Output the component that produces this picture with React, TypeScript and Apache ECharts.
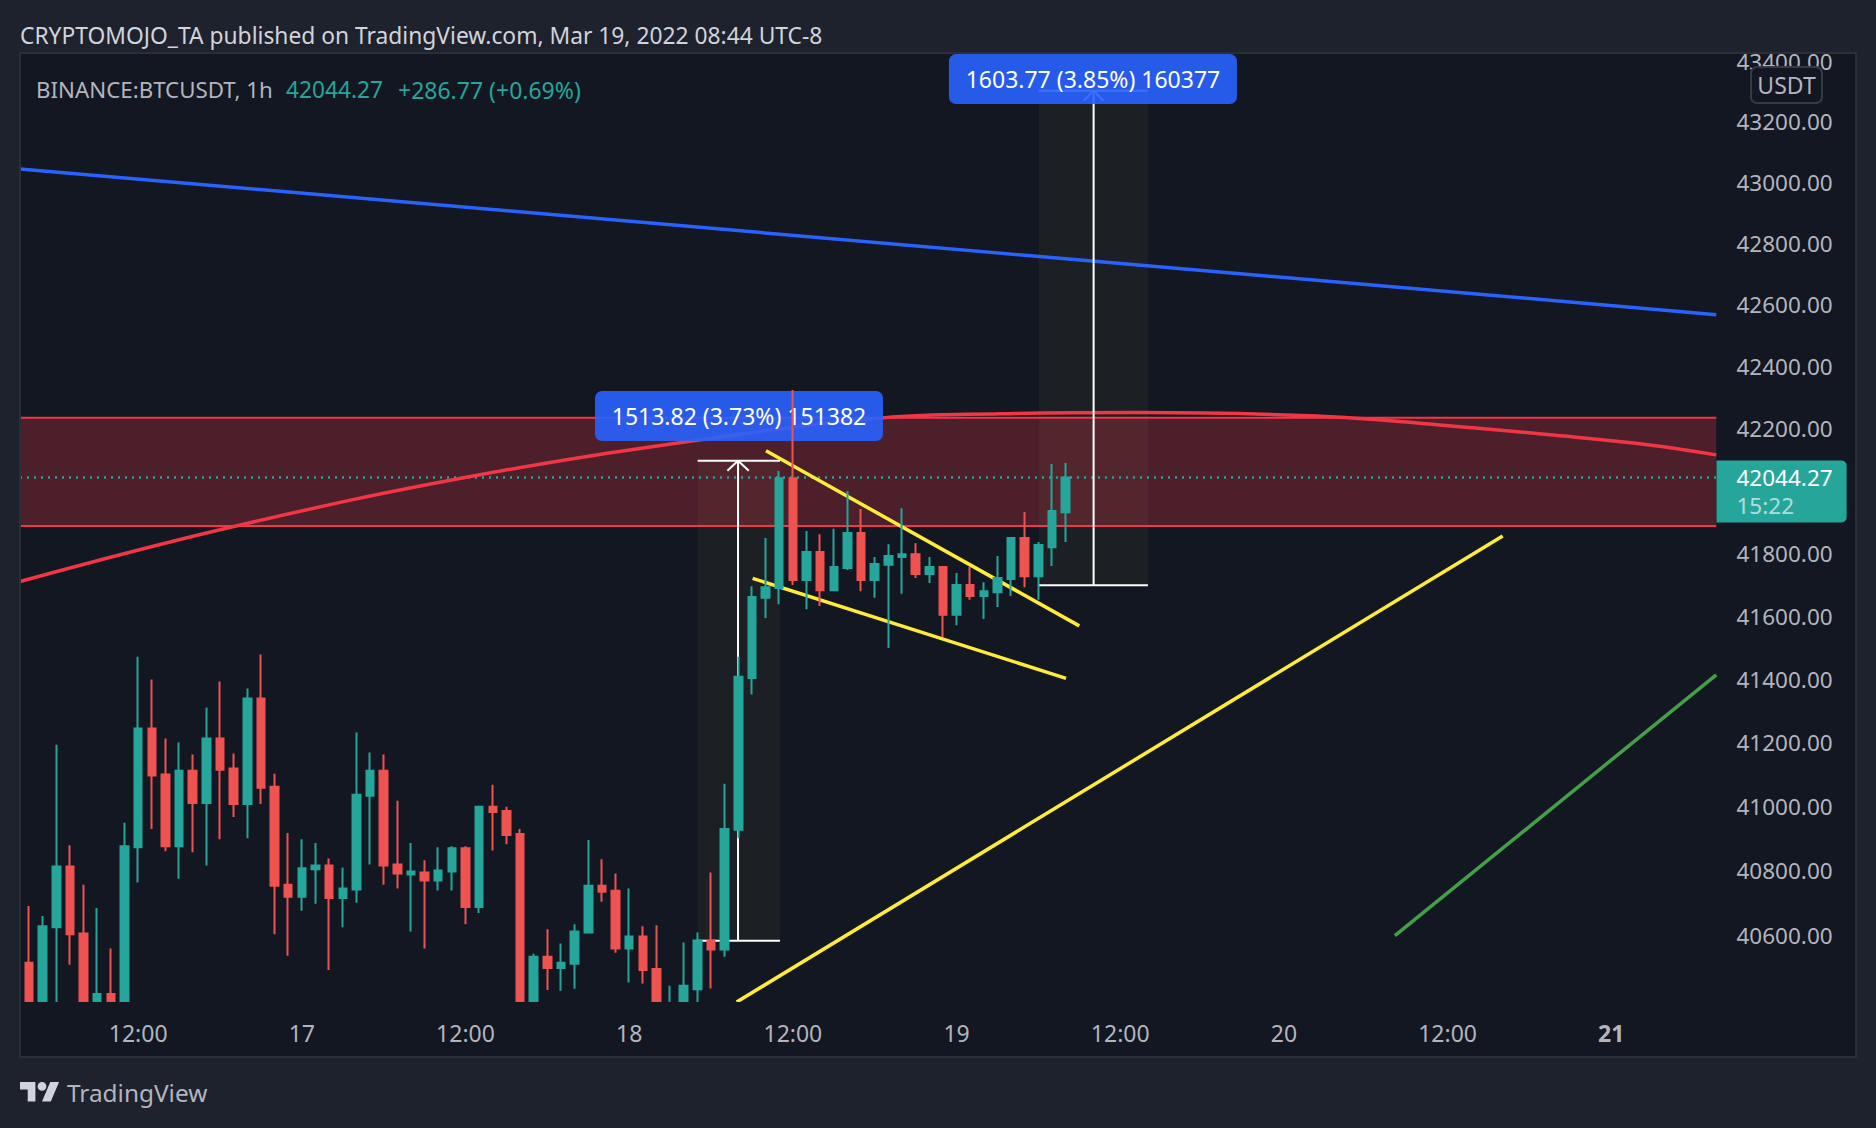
import { useEffect, useRef } from 'react'
import * as echarts from 'echarts'

echarts.graphic.registerShape(
  'tvLogo',
  echarts.graphic.extendPath(
    'M14 22H7V11H0V4h14v18zM28 22h-8l7.5-18h8L28 22zM24 8a4 4 0 1 1-8 0 4 4 0 0 1 8 0z',
    {}
  )
)

const FONT = '"Noto Sans"'
const BG = '#1e222d'
const PANE = '#131722'
const BORDER = '#2a2e39'
const TEXT = '#b2b5be'
const UP = '#26a69a'
const DOWN = '#ef5350'
const RED = '#f23645'
const BLUE = '#2962ff'
const YELLOW = '#ffeb3b'
const GREEN = '#43a047'
const SHADE = 'rgba(255,220,100,0.04)'

// hourly bars from Mar 16 03:00, [open, close, low, high]
const candles = [
  [40340, 40516, 40300, 40560], [40516, 40370, 40340, 40692], [40370, 40629, 40340, 40661], [40626, 40815, 40350, 41196],
  [40815, 40604, 40510, 40881], [40607, 40380, 40360, 40758], [40385, 40420, 40360, 40686], [40420, 40385, 40360, 40560],
  [40385, 40878, 40370, 40951], [40875, 41247, 40765, 41473], [41247, 41099, 40932, 41401], [41102, 40878, 40862, 41215],
  [40878, 41114, 40777, 41203], [41114, 41013, 40859, 41165], [41013, 41215, 40818, 41313], [41215, 41117, 40900, 41395],
  [41121, 41010, 40969, 41168], [41010, 41341, 40903, 41373], [41341, 41061, 41010, 41480], [41064, 40755, 40604, 41105],
  [40758, 40721, 40538, 40919], [40721, 40809, 40677, 40900], [40806, 40818, 40699, 40888], [40818, 40717, 40494, 40840],
  [40717, 40746, 40626, 40812], [40743, 41039, 40702, 41234], [41036, 41114, 40821, 41171], [41114, 40818, 40758, 41165],
  [40821, 40793, 40746, 41020], [40790, 40799, 40613, 40888], [40796, 40771, 40560, 40834], [40771, 40802, 40740, 40875],
  [40799, 40872, 40740, 40878], [40872, 40689, 40635, 40878], [40689, 41001, 40670, 41001], [41001, 40985, 40865, 41070],
  [40988, 40913, 40884, 41001], [40916, 40385, 40360, 40932], [40385, 40535, 40360, 40544], [40535, 40500, 40432, 40620],
  [40500, 40516, 40430, 40576], [40513, 40613, 40436, 40635], [40610, 40755, 40610, 40897], [40755, 40736, 40705, 40837],
  [40739, 40560, 40547, 40793], [40560, 40597, 40455, 40746], [40597, 40494, 40452, 40629], [40497, 40385, 40360, 40632],
  [40350, 40380, 40330, 40445], [40385, 40445, 40360, 40579], [40434, 40585, 40370, 40610], [40585, 40557, 40437, 40796],
  [40557, 40932, 40535, 41073], [40929, 41410, 40903, 41473], [41406, 41663, 41354, 41697], [41660, 41694, 41596, 41851],
  [41691, 42042, 41640, 42065], [42042, 41717, 41701, 42326], [41717, 41806, 41624, 41873], [41806, 41684, 41634, 41863],
  [41684, 41758, 41681, 41880], [41755, 41867, 41749, 42001], [41867, 41717, 41681, 41943], [41717, 41768, 41660, 41790],
  [41765, 41793, 41501, 41831], [41790, 41799, 41673, 41946], [41799, 41736, 41723, 41834], [41736, 41758, 41707, 41790],
  [41758, 41606, 41536, 41758], [41606, 41701, 41573, 41739], [41701, 41666, 41654, 41758], [41666, 41681, 41593, 41710],
  [41678, 41723, 41631, 41793], [41720, 41851, 41666, 41854], [41851, 41729, 41694, 41934], [41729, 41828, 41654, 41838],
  [41821, 41937, 41761, 42088], [41933, 42044.27, 41838, 42091],
]

const priceTicks = [43400, 43200, 43000, 42800, 42600, 42400, 42200, 41800, 41600, 41400, 41200, 41000, 40800, 40600]
const lastPrice = 42044.27

// bar index -> time axis label
const timeLabels: Record<number, string> = {
  9: '12:00', 21: '17', 33: '12:00', 45: '18', 57: '12:00', 69: '19', 81: '12:00', 93: '20', 105: '12:00', 117: '21',
}
const BAR_SLOTS = 126
const categories = Array.from({ length: BAR_SLOTS }, (_, i) => timeLabels[i] ?? '')

// drawings, x in bar slots (a bar's centre is index + 0.5), y in price
const chartEnd = 125.2
const blueLine = [[0.84, 43046], [chartEnd, 42570]]
const redCurve = [
  [0.84, 41712], [16.67, 41889], [34.05, 42049], [51.13, 42168], [64.1, 42236], [72.7, 42249],
  [82.7, 42253], [95.9, 42242], [104.7, 42214], [113.4, 42180], [120.3, 42149], [chartEnd, 42117],
]
const wedgeTop = [[55.53, 42130], [78.5, 41571]]
const wedgeBottom = [[54.55, 41722], [77.53, 41405]]
const yellowRising = [[53.38, 40395], [109.54, 41857]]
const greenRising = [[101.64, 40600], [chartEnd, 41416]]
const zoneTop = 42236
const zoneBottom = 41889

const rangeA = { left: 50.52, right: 56.56, mid: 53.48, low: 40584, high: 42098, arrowLeft: 52.7, arrowRight: 54.27, arrowY: 42066 }
const rangeB = { left: 75.54, right: 83.53, mid: 79.55, low: 41700, high: 43303.77, arrowLeft: 78.82, arrowRight: 80.28, arrowY: 43270 }
const measureLabels = [
  { text: '1513.82 (3.73%) 151382', at: [53.55, 42242] },
  { text: '1603.77 (3.85%) 160377', at: [79.5, 43342] },
]

const drawLine = (name: string, data: number[][], color: string, width: number, extra: object = {}) => ({
  name,
  type: 'line',
  xAxisIndex: 1,
  yAxisIndex: 0,
  data,
  symbol: 'none',
  silent: true,
  z: 3,
  lineStyle: { color, width },
  ...extra,
})

const rangeSeries = (key: string, r: typeof rangeA) => [
  drawLine(key + ' top', [[r.left, r.high], [r.right, r.high]], '#fff', 2),
  drawLine(key + ' bottom', [[r.left, r.low], [r.right, r.low]], '#fff', 2),
  drawLine(key + ' stem', [[r.mid, r.low], [r.mid, r.high]], '#fff', 2),
  drawLine(key + ' arrow', [[r.arrowLeft, r.arrowY], [r.mid, r.high], [r.arrowRight, r.arrowY]], '#fff', 2),
]

export default function App() {
  const chartRef = useRef<HTMLDivElement>(null)

  useEffect(() => {
    if (!chartRef.current) return
    document.body.style.margin = '0'
    const chart = echarts.init(chartRef.current, undefined, { renderer: 'svg' })

    const priceAxis = { type: 'log', logBase: 10, min: 40395, max: 43425, show: false, splitLine: { show: false } }

    chart.setOption({
      animation: false,
      backgroundColor: BG,
      textStyle: { fontFamily: FONT },
      grid: [
        { left: 8.58, top: 54, width: 1718.6, height: 948 },
        { left: 1716, top: 54, width: 140, height: 948 },
      ],
      xAxis: [
        {
          type: 'category',
          gridIndex: 0,
          z: 7,
          data: categories,
          axisLine: { show: false },
          axisTick: { show: false },
          splitLine: { show: false },
          axisLabel: {
            interval: 0,
            margin: 19,
            color: TEXT,
            fontSize: 23,
            fontFamily: FONT,
            hideOverlap: false,
            formatter: (v: string) => (v === '21' ? '{strong|21}' : v),
            rich: { strong: { fontSize: 23, fontWeight: 'bold', color: TEXT, fontFamily: FONT } },
          },
        },
        { type: 'value', gridIndex: 0, min: 0, max: BAR_SLOTS, show: false, splitLine: { show: false } },
        { type: 'value', gridIndex: 1, min: 0, max: 1, show: false, splitLine: { show: false } },
      ],
      yAxis: [
        { ...priceAxis, gridIndex: 0 },
        { ...priceAxis, gridIndex: 1 },
      ],
      series: [
        drawLine('zones', [], RED, 0, {
          z: 1,
          markArea: {
            silent: true,
            data: [
              [
                { coord: [0.84, zoneTop], itemStyle: { color: 'rgba(242,54,69,0.26)' } },
                { coord: [chartEnd, zoneBottom] },
              ],
              [
                { coord: [rangeA.left, rangeA.high], itemStyle: { color: SHADE } },
                { coord: [rangeA.right, rangeA.low] },
              ],
              [
                { coord: [rangeB.left, rangeB.high], itemStyle: { color: SHADE } },
                { coord: [rangeB.right, rangeB.low] },
              ],
            ],
          },
        }),
        drawLine('zone top', [[0.84, zoneTop], [chartEnd, zoneTop]], RED, 2),
        drawLine('zone bottom', [[0.84, zoneBottom], [chartEnd, zoneBottom]], RED, 2),
        drawLine('last price', [[0.84, lastPrice], [chartEnd, lastPrice]], UP, 2, {
          lineStyle: { color: UP, width: 2.4, type: [2, 5] },
        }),
        drawLine('blue trend', blueLine, BLUE, 3.5),
        drawLine('red curve', redCurve, RED, 3.5, { smooth: 0.4 }),
        drawLine('wedge top', wedgeTop, YELLOW, 3.5),
        drawLine('wedge bottom', wedgeBottom, YELLOW, 3.5),
        drawLine('yellow rising', yellowRising, YELLOW, 3.5),
        drawLine('green rising', greenRising, GREEN, 3.5),
        ...rangeSeries('range a', rangeA),
        ...rangeSeries('range b', rangeB),
        ...measureLabels.map((m) => ({
          type: 'scatter',
          xAxisIndex: 1,
          yAxisIndex: 0,
          z: 4,
          silent: true,
          symbolSize: 1,
          itemStyle: { color: 'transparent', opacity: 1 },
          data: [m.at],
          label: {
            show: true,
            position: 'inside',
            formatter: m.text,
            color: '#fff',
            fontSize: 23,
            fontFamily: FONT,
            backgroundColor: 'rgba(41,98,255,0.9)',
            borderRadius: 7,
            width: 288,
            height: 50,
            lineHeight: 50,
            align: 'center',
            verticalAlign: 'middle',
          },
        })),
        {
          name: 'BTCUSDT',
          type: 'candlestick',
          xAxisIndex: 0,
          yAxisIndex: 0,
          z: 5,
          silent: true,
          barWidth: 8,
          data: candles,
          itemStyle: { color: UP, color0: DOWN, borderColor: UP, borderColor0: DOWN, borderWidth: 2 },
        },
        {
          name: 'price ticks',
          type: 'scatter',
          xAxisIndex: 2,
          yAxisIndex: 1,
          z: 5,
          silent: true,
          symbolSize: 1,
          itemStyle: { color: 'transparent', opacity: 1 },
          data: priceTicks.map((p) => [0, p]),
          label: {
            show: true,
            position: 'right',
            distance: 20,
            offset: [0, -0.5],
            formatter: (p: any) => p.value[1].toFixed(2),
            color: TEXT,
            fontSize: 22.5,
            fontFamily: FONT,
          },
        },
        {
          name: 'last price tag',
          type: 'scatter',
          xAxisIndex: 2,
          yAxisIndex: 1,
          z: 6,
          silent: true,
          symbolSize: 1,
          itemStyle: { color: 'transparent', opacity: 1 },
          data: [[0, lastPrice]],
          label: {
            show: true,
            position: 'right',
            distance: 0,
            offset: [0, 14],
            formatter: `{a|${lastPrice}}\n{b|15:22}`,
            backgroundColor: UP,
            borderRadius: [0, 5, 5, 0],
            padding: [3, 14, 3, 20],
            rich: {
              a: { fontSize: 22.5, lineHeight: 28, color: '#fff', fontFamily: FONT },
              b: { fontSize: 22.5, lineHeight: 28, color: 'rgba(255,255,255,0.65)', fontFamily: FONT },
            },
          },
        },
      ],
      graphic: {
        elements: [
          { type: 'rect', z: -1, shape: { x: 20, y: 53, width: 1836, height: 1004 }, style: { fill: PANE, stroke: BORDER, lineWidth: 2 } },
          { type: 'rect', z: 6, shape: { x: 21, y: 1002, width: 1834, height: 54 }, style: { fill: PANE } },
          { type: 'rect', z: 7, shape: { x: 0, y: 0, width: 19, height: 1128 }, style: { fill: BG } },
          { type: 'line', z: 7, shape: { x1: 20, y1: 53, x2: 20, y2: 1057 }, style: { stroke: BORDER, lineWidth: 2 } },
          { type: 'rect', z: 8, shape: { x: 0, y: 0, width: 1876, height: 52 }, style: { fill: BG } },
          { type: 'line', z: 8, shape: { x1: 20, y1: 53, x2: 1856, y2: 53 }, style: { stroke: BORDER, lineWidth: 2 } },
          {
            type: 'rect', z: 7,
            shape: { x: 1751, y: 67, width: 71, height: 36, r: 6 },
            style: { fill: PANE, stroke: '#363a45', lineWidth: 2 },
          },
          {
            type: 'text', z: 7, x: 1786.5, y: 85,
            style: { text: 'USDT', fill: TEXT, font: `23px ${FONT}`, align: 'center', verticalAlign: 'middle' },
          },
          {
            type: 'text', z: 9, x: 20, y: 35.5,
            style: {
              text: 'CRYPTOMOJO_TA published on TradingView.com, Mar 19, 2022 08:44 UTC-8',
              fill: '#d1d4dc', font: `22.8px ${FONT}`, verticalAlign: 'middle',
            },
          },
          {
            type: 'text', z: 9, x: 36, y: 89.5,
            style: { text: 'BINANCE:BTCUSDT, 1h', fill: TEXT, font: `22.3px ${FONT}`, verticalAlign: 'middle' },
          },
          {
            type: 'text', z: 9, x: 286, y: 89.5,
            style: { text: '42044.27', fill: UP, font: `22.7px ${FONT}`, verticalAlign: 'middle' },
          },
          {
            type: 'text', z: 9, x: 398, y: 89.5,
            style: { text: '+286.77 (+0.69%)', fill: UP, font: `23px ${FONT}`, verticalAlign: 'middle' },
          },
          { type: 'tvLogo', z: 9, x: 20, y: 1077.6, scaleX: 1.1, scaleY: 1.09, style: { fill: '#d1d4dc' } },
          {
            type: 'text', z: 9, x: 67, y: 1092,
            style: { text: 'TradingView', fill: TEXT, font: `24.4px ${FONT}`, verticalAlign: 'middle' },
          },
        ],
      },
    })

    return () => {
      chart.dispose()
    }
  }, [])

  return <div ref={chartRef} style={{ width: '1876px', height: '1128px' }}></div>
}
